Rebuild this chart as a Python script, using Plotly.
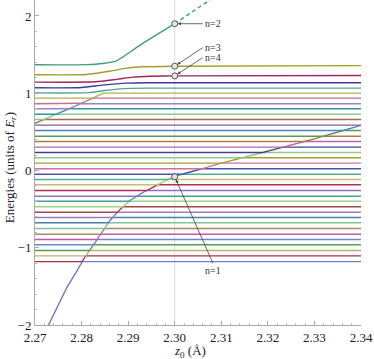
import numpy as np
import plotly.graph_objects as go

# z0 span of the computed levels
z_span = [2.27, 2.34]

# flat (bare) levels, bottom-up, units of E_r
levels = [-1.179, -1.105, -1.036, -0.962, -0.894, -0.825, -0.751, -0.677, -0.609,
          -0.540, -0.470, -0.398, -0.333, -0.259, -0.185, -0.117, -0.048, 0.022,
          0.095, 0.165, 0.233, 0.302, 0.376, 0.444, 0.518, 0.587, 0.661, 0.729,
          0.799, 0.864, 0.937, 1.001, 1.066, 1.136, 1.231, 1.360]

# steep state that sweeps up through the lower levels (n=1)
d1_z = [2.2725, 2.2745, 2.2768, 2.2790, 2.2807, 2.2832, 2.2861, 2.2880, 2.2904,
        2.2930, 2.2954, 2.2980, 2.3000, 2.3025, 2.3050, 2.3100, 2.3200, 2.3300,
        2.3400]
d1_e = [-2.05, -1.80, -1.52, -1.30, -1.12, -0.906, -0.647, -0.520, -0.388,
        -0.290, -0.215, -0.130, -0.080, -0.033, 0.008, 0.095, 0.250, 0.410,
        0.585]

# second state entering from the left around 0.6
d2_z = [2.2680, 2.2700, 2.2750, 2.2800, 2.2850, 2.2870]
d2_e = [0.560, 0.610, 0.740, 0.870, 1.010, 1.070]

# top levels read directly (strong avoided crossings)
teal_z = [2.27, 2.2815, 2.285, 2.289, 2.294, 2.34]
teal_e = [1.005, 1.008, 1.035, 1.060, 1.066, 1.066]
indigo_z = [2.27, 2.280, 2.2845, 2.2897, 2.295, 2.34]
indigo_e = [1.071, 1.074, 1.105, 1.131, 1.136, 1.136]
n4_z = [2.27, 2.283, 2.2875, 2.291, 2.295, 2.30, 2.34]
n4_e = [1.144, 1.148, 1.180, 1.209, 1.220, 1.225, 1.229]
n3_z = [2.27, 2.281, 2.2861, 2.2897, 2.2932, 2.30, 2.34]
n3_e = [1.240, 1.243, 1.286, 1.325, 1.343, 1.350, 1.358]
n2_z = [2.27, 2.281, 2.2845, 2.2875, 2.2925, 2.30, 2.3076]
n2_e = [1.368, 1.370, 1.385, 1.420, 1.620, 1.900, 2.210]

colors = ["#7878c8", "#a83058", "#c0b070", "#50a050", "#7088c8", "#c058b0",
          "#b08860", "#80c498", "#4880a8", "#a078c8", "#a04848", "#a0d080",
          "#40a0a0", "#9070b8", "#b03050", "#c0c070", "#50b090", "#5050a8",
          "#d070a0", "#a0a030", "#90c890", "#404098", "#c060b0", "#b07848",
          "#50a050", "#5080c0", "#8858a8", "#a86850", "#90c890", "#309898",
          "#a080c8", "#c07090", "#b0b050", "#50a890", "#4038a0", "#a02858",
          "#a0a028", "#40a070"]

# marked states at z0 = 2.30
z_mark = 2.30
mark_e = [1.900, 1.350, 1.225, -0.080]
mark_txt = ["n=2", "n=3", "n=4", "n=1"]
tail_z = [2.3060, 2.3060, 2.3060, 2.3082]
tail_e = [1.900, 1.590, 1.460, -1.200]


def adiabat(dz, de, lo, hi):
    dz = np.asarray(dz)
    de = np.asarray(de)
    xs, ys = [], []
    if lo is not None and de[0] < lo:
        xs += [z_span[0], float(np.interp(lo, de, dz))]
        ys += [lo, lo]
    keep = np.ones(len(de), bool)
    if lo is not None:
        keep &= de > lo
    if hi is not None:
        keep &= de < hi
    xs += list(dz[keep])
    ys += list(de[keep])
    if hi is not None and de[-1] > hi:
        xs += [float(np.interp(hi, de, dz)), z_span[1]]
        ys += [hi, hi]
    return xs, ys


traces = []
bounds = [None] + levels[:25]
for k in range(26):
    traces.append(adiabat(d1_z, d1_e, bounds[k], levels[k]))
for k in range(25, 32):
    traces.append(adiabat(d2_z, d2_e, levels[k - 1] if k > 25 else levels[24], levels[k]))
n_flat = len(traces)
traces.append((teal_z, teal_e))
traces.append((indigo_z, indigo_e))
traces.append((n4_z, n4_e))
traces.append((n3_z, n3_e))

fig = go.Figure()
for i, ((xs, ys), c) in enumerate(zip(traces, colors)):
    shape = "linear" if i < n_flat else "spline"
    fig.add_trace(go.Scatter(x=xs, y=ys, mode="lines", hoverinfo="skip",
                             line=dict(color=c, width=1.4, shape=shape, smoothing=0.6)))

# n=2: solid up to the marked point, dashed beyond
n2z = np.array(n2_z)
n2e = np.array(n2_e)
solid = n2z <= z_mark
fig.add_trace(go.Scatter(x=n2z[solid], y=n2e[solid], mode="lines",
                         line=dict(color=colors[-1], width=1.4, shape="spline",
                                   smoothing=0.6)))
fig.add_trace(go.Scatter(x=n2z[n2z >= z_mark], y=n2e[n2z >= z_mark], mode="lines",
                         line=dict(color=colors[-1], width=1.4, dash="4px,3px")))

fig.add_vline(x=z_mark, line=dict(color="#dcdcdc", width=1), layer="below")

fig.add_trace(go.Scatter(x=[z_mark] * len(mark_e), y=mark_e, mode="markers",
                         marker=dict(symbol="circle", size=6, color="#e6e6e6",
                                     line=dict(color="#555", width=1))))

for t, e, tz, te in zip(mark_txt, mark_e, tail_z, tail_e):
    top = t == "n=1"
    fig.add_annotation(x=z_mark, y=e, ax=tz, ay=te, axref="x", ayref="y",
                       text=t, showarrow=True, arrowhead=2, arrowsize=0.8,
                       arrowwidth=0.8, arrowcolor="#444", standoff=3,
                       xanchor="center" if top else "left",
                       yanchor="top" if top else "middle",
                       font=dict(family="Liberation Serif", size=10, color="#333"))

fig.add_annotation(text="<i>z</i><sub>0</sub> (Å)", xref="paper", yref="paper",
                   x=0.475, y=-0.08, showarrow=False, yanchor="middle",
                   font=dict(family="Liberation Serif", size=13, color="#222"))
fig.add_annotation(text="Energies (units of <i>E<sub>r</sub></i>)", xref="paper",
                   yref="paper", x=-0.077, y=0.485, textangle=-90, showarrow=False,
                   xanchor="center", font=dict(family="Liberation Serif", size=13,
                                               color="#222"))

fig.update_layout(
    width=374, height=359, showlegend=False,
    margin=dict(l=35, r=13, t=0, b=34),
    plot_bgcolor="white", paper_bgcolor="white",
    font=dict(family="Liberation Serif", size=13, color="#222"),
)
fig.update_xaxes(range=[2.27, 2.34], dtick=0.01, tickformat=".2f", showgrid=False,
                 zeroline=False, showline=True, linecolor="#aaa", linewidth=1,
                 ticks="inside", ticklen=4, tickcolor="#aaa",
                 minor=dict(dtick=0.002, ticks="inside", ticklen=2, tickcolor="#bbb"))
fig.update_yaxes(range=[-2, 2.207], dtick=1, showgrid=False, zeroline=False,
                 showline=True, linecolor="#aaa", linewidth=1,
                 ticks="inside", ticklen=4, tickcolor="#aaa",
                 minor=dict(dtick=0.2, ticks="inside", ticklen=2, tickcolor="#bbb"))

fig.write_html("out.html", config={"displayModeBar": False},
               post_script="document.body.style.margin='0';")
